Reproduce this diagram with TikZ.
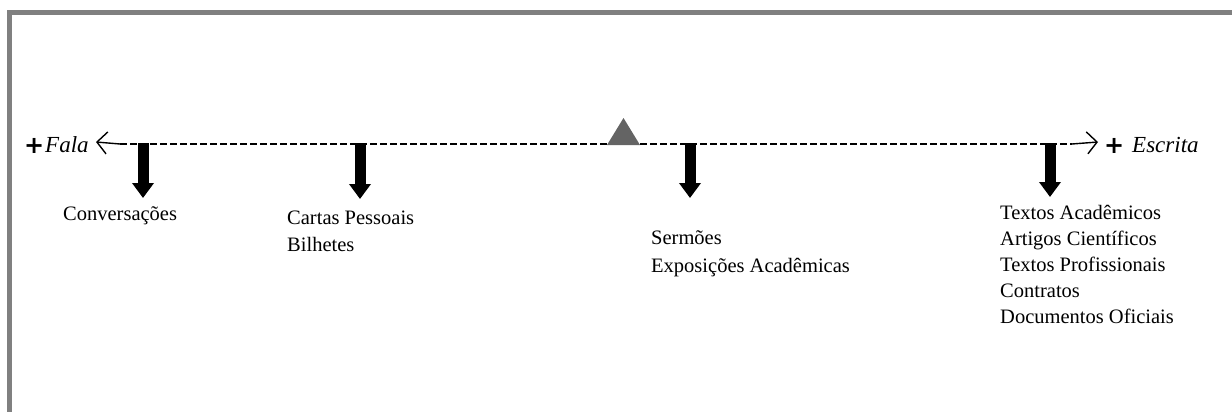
\documentclass[tikz,border=0pt]{standalone}
\usepackage{fontspec}
\setmainfont{Liberation Serif}
\newfontfamily\plusfont{DejaVu Sans}
\usetikzlibrary{arrows.meta}
\definecolor{framegray}{HTML}{808080}
\definecolor{trigray}{HTML}{646464}
\tikzset{
  lbl/.style={anchor=base west, inner sep=0pt, font=\fontsize{20.5}{26}\selectfont},
  endlbl/.style={anchor=base west, inner sep=0pt, font=\fontsize{23}{24}\selectfont\itshape},
  plus/.style={anchor=base west, inner sep=0pt, font=\fontsize{24}{24}\plusfont\bfseries},
  axis/.style={line width=2.4pt, dash pattern=on 6.5pt off 3.5pt},
  thinarrow/.style={line width=1.4pt, -{Straight Barb[length=10pt,width=22pt,line width=1.4pt]}},
  blockarrow/.style={line width=11pt, -{Triangle[length=15pt,width=21pt]}},
}
\begin{document}
\begin{tikzpicture}[x=1pt,y=-1pt]
\useasboundingbox (0,0) rectangle (1232,412);
% frame (top and left only)
\fill[framegray] (7,10) rectangle (1232,15);
\fill[framegray] (7,10) rectangle (12,412);
% axis coordinates
\coordinate (L) at (120,144);
\coordinate (R) at (1072,144);
\coordinate (Ltip) at (96,142);
\coordinate (Rtip) at (1098,142);
\draw[axis] (L) -- (R);
\draw[thinarrow] (L) -- (Ltip);
\draw[thinarrow] (R) -- (Rtip);
% end labels
\node[plus] (pl) at (24,153) {+};
\node[endlbl] (fala) at (45,152) {Fala};
\node[plus] (pr) at (1104,153) {+};
\node[endlbl] (escrita) at (1132,152) {Escrita};
% triangle
\fill[trigray] (607,145) -- (623.5,118) -- (640,145) -- cycle;
% arrow coordinates
\coordinate (a1) at (143,143);
\coordinate (b1) at (143,198);
\coordinate (a2) at (360,143);
\coordinate (b2) at (360,199);
\coordinate (a3) at (690,143);
\coordinate (b3) at (690,198);
\coordinate (a4) at (1050,143);
\coordinate (b4) at (1050,197);
\draw[blockarrow] (a1) -- (b1);
\draw[blockarrow] (a2) -- (b2);
\draw[blockarrow] (a3) -- (b3);
\draw[blockarrow] (a4) -- (b4);
% labels
\node[lbl] (t1) at (63,220) {Conversações};
\node[lbl] (t2a) at (287,224) {Cartas Pessoais};
\node[lbl] (t2b) at (287,251) {Bilhetes};
\node[lbl] (t3a) at (651,244) {Sermões};
\node[lbl] (t3b) at (651,272) {Exposições Acadêmicas};
\node[lbl] (t4a) at (1000,219) {Textos Acadêmicos};
\node[lbl] (t4b) at (1000,245) {Artigos Científicos};
\node[lbl] (t4c) at (1000,271) {Textos Profissionais};
\node[lbl] (t4d) at (1000,297) {Contratos};
\node[lbl] (t4e) at (1000,323) {Documentos Oficiais};
\end{tikzpicture}
\end{document}
